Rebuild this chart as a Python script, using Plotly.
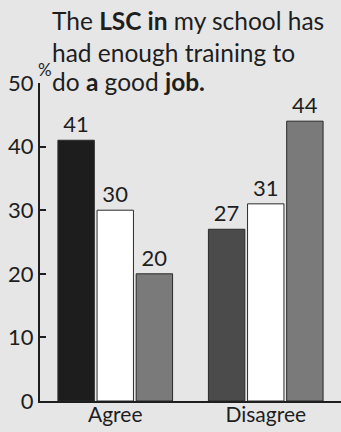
import plotly.graph_objects as go

categories = ["Agree", "Disagree"]
series_a = [41, 27]
series_b = [30, 31]
series_c = [20, 44]
y_ticks = [0, 10, 20, 30, 40, 50]

colors_a = ["#1d1d1d", "#4b4b4b"]
colors_b = ["#ffffff", "#ffffff"]
colors_c = ["#7a7a7a", "#7a7a7a"]

FONT = "Lato"
INK = "#1e1e1e"
BG = "#e6e6e6"

W, H = 341, 432
L, R, T, B = 40, 0, 83, 31
plot_h = H - T - B


def py(pixel_y):
    """Paper y for a pixel row."""
    return (H - B - pixel_y) / plot_h


fig = go.Figure()
for vals, cols in [(series_a, colors_a), (series_b, colors_b), (series_c, colors_c)]:
    fig.add_trace(go.Bar(
        x=categories, y=vals,
        marker=dict(color=cols, line=dict(color="#2a2a2a", width=1)),
        text=[str(v) for v in vals], textposition="outside",
        textfont=dict(family=FONT, size=22, color=INK),
        cliponaxis=False, showlegend=False,
    ))

title_lines = [
    ("The <b>LSC in</b> my school has", 31),
    ("had enough training to", 63),
    ("do <b>a</b> good <b>job.</b>", 92),
]
for txt, base in title_lines:
    fig.add_annotation(
        text=txt, xref="paper", yref="paper",
        x=(50 - L) / (W - L - R), y=py(base + 6),
        xanchor="left", yanchor="bottom", showarrow=False,
        font=dict(family=FONT, size=24.5, color=INK),
    )

fig.add_annotation(
    text="%", xref="paper", yref="paper",
    x=(45 - L) / (W - L - R), y=py(69),
    xanchor="center", yanchor="middle", showarrow=False,
    font=dict(family=FONT, size=17, color=INK),
)

fig.update_layout(
    width=W, height=H,
    margin=dict(l=L, r=R, t=T, b=B),
    paper_bgcolor=BG, plot_bgcolor=BG,
    barmode="group", bargap=0.22, bargroupgap=0.07,
    uniformtext=dict(mode=False),
)
fig.update_xaxes(
    showline=True, linecolor=INK, linewidth=2, automargin=False,
    showgrid=False, ticks="", ticklabelstandoff=-6,
    tickfont=dict(family=FONT, size=21, color=INK),
)
fig.update_yaxes(
    range=[0, 50], tickvals=y_ticks, ticktext=[str(v) for v in y_ticks],
    showline=True, linecolor=INK, linewidth=2, automargin=False,
    ticks="inside", ticklen=6, tickwidth=2, tickcolor=INK,
    showgrid=False, zeroline=False,
    tickfont=dict(family=FONT, size=22, color=INK),
)

fig.write_html("out.html")
